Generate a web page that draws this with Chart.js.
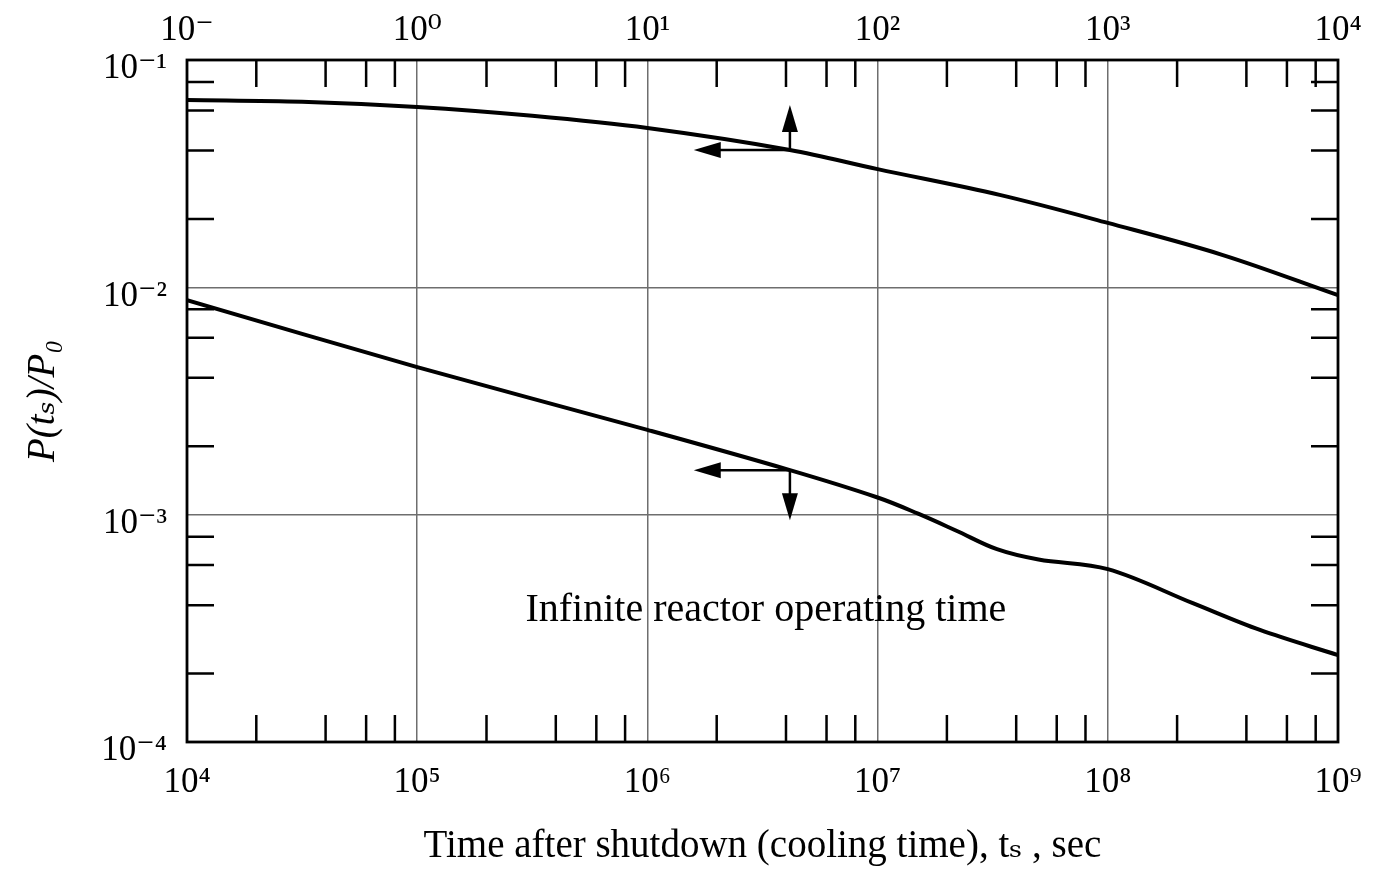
<!DOCTYPE html>
<html>
<head>
<meta charset="utf-8">
<script src="https://cdn.jsdelivr.net/npm/chart.js@4.4.1/dist/chart.umd.min.js"></script>
<style>
  html, body { margin: 0; padding: 0; background: #fff; }
  #wrap { width: 1375px; height: 869px; }
</style>
</head>
<body>
<div id="wrap"><canvas id="c" width="1375" height="869"></canvas></div>
<script>
// ---- tick values and labels ----
const bottomTicks = [1e4, 1e5, 1e6, 1e7, 1e8, 1e9];
const bottomTickLabels = ['10⁴', '10⁵', '10⁶', '10⁷', '10⁸', '10⁹'];
const topTicks = [0.1, 1, 10, 100, 1000, 1e4];
const topTickLabels = ['10⁻', '10⁰', '10¹', '10²', '10³', '10⁴'];
const yTicks = [1e-4, 1e-3, 1e-2, 1e-1];
const yTickLabels = ['10⁻⁴', '10⁻³', '10⁻²', '10⁻¹'];
const minorMultipliers = [2, 4, 6, 8];

// ---- upper curve (read against the top axis, sec) ----
const shortTimes = [0.1, 0.316, 1, 3.16, 10, 41.6, 100, 339, 1000, 3162, 10000];
const shortPower = [0.0667, 0.0655, 0.0621, 0.0568, 0.0502, 0.0402, 0.0331, 0.0255, 0.0192, 0.01387, 0.00924];

// ---- lower curve (read against the bottom axis, sec) ----
const longTimes = [1e4, 1e5, 1e6, 4.16e6, 1e7, 1.5e7, 2.2e7, 3.3e7, 5e7, 1e8, 2.34e8, 4.58e8, 1e9];
const longPower = [0.00879, 0.00446, 0.00236, 0.00157, 0.00119, 0.00101, 0.000850, 0.000705, 0.000635, 0.000576, 0.000408, 0.000311, 0.000241];

// ---- annotation arrows and label ----
const upperArrowX = [41.6, 15.9];      // junction, left tip (top axis)
const upperArrowY = [0.0402, 0.0634];  // junction, upper tip
const lowerArrowX = [4.16e6, 1.59e6];  // junction, left tip (bottom axis)
const lowerArrowY = [0.00157, 0.000946]; // junction, lower tip
const noteText = 'Infinite reactor operating time';
const notePos = [3.27e6, 3.8e-4];

const SERIF = "'Liberation Serif', 'DejaVu Serif', serif";

function fixTicks(values) {
  return function (scale) { scale.ticks = values.map(v => ({ value: v })); };
}

const decoration = {
  id: 'decoration',
  afterDatasetsDraw(chart) {
    const { ctx, chartArea: a, scales } = chart;
    const X = scales.x, X2 = scales.x2, Y = scales.y;
    const TL = 27;
    ctx.save();
    ctx.strokeStyle = '#000';
    ctx.lineWidth = 2.5;
    ctx.lineCap = 'butt';
    ctx.beginPath();
    bottomTicks.slice(0, -1).forEach(d => {
      minorMultipliers.forEach(m => {
        const px = X.getPixelForValue(d * m);
        ctx.moveTo(px, a.bottom); ctx.lineTo(px, a.bottom - TL);
        ctx.moveTo(px, a.top); ctx.lineTo(px, a.top + TL);
      });
    });
    yTicks.slice(0, -1).forEach(d => {
      minorMultipliers.forEach(m => {
        const py = Y.getPixelForValue(d * m);
        ctx.moveTo(a.left, py); ctx.lineTo(a.left + TL, py);
        ctx.moveTo(a.right, py); ctx.lineTo(a.right - TL, py);
      });
    });
    ctx.stroke();
    ctx.lineWidth = 2.8;
    ctx.strokeRect(a.left, a.top, a.right - a.left, a.bottom - a.top);

    function head(tx, ty, dx, dy) {
      const len = 27, hw = 8;
      const bx = tx - dx * len, by = ty - dy * len;
      ctx.beginPath();
      ctx.moveTo(tx, ty);
      ctx.lineTo(bx - dy * hw, by + dx * hw);
      ctx.lineTo(bx + dy * hw, by - dx * hw);
      ctx.closePath();
      ctx.fill();
    }
    ctx.fillStyle = '#000';
    ctx.lineWidth = 2.5;
    let jx = X2.getPixelForValue(upperArrowX[0]);
    let jy = Y.getPixelForValue(upperArrowY[0]);
    let lx = X2.getPixelForValue(upperArrowX[1]);
    let uy = Y.getPixelForValue(upperArrowY[1]);
    ctx.beginPath();
    ctx.moveTo(jx, jy); ctx.lineTo(lx + 20, jy);
    ctx.moveTo(jx, jy); ctx.lineTo(jx, uy + 20);
    ctx.stroke();
    head(lx, jy, -1, 0);
    head(jx, uy, 0, -1);
    jx = X.getPixelForValue(lowerArrowX[0]);
    jy = Y.getPixelForValue(lowerArrowY[0]);
    lx = X.getPixelForValue(lowerArrowX[1]);
    const dy2 = Y.getPixelForValue(lowerArrowY[1]);
    ctx.beginPath();
    ctx.moveTo(jx, jy); ctx.lineTo(lx + 20, jy);
    ctx.moveTo(jx, jy); ctx.lineTo(jx, dy2 - 20);
    ctx.stroke();
    head(lx, jy, -1, 0);
    head(jx, dy2, 0, 1);

    ctx.font = '40px ' + SERIF;
    ctx.textAlign = 'center';
    ctx.textBaseline = 'middle';
    ctx.fillText(noteText, X.getPixelForValue(notePos[0]), Y.getPixelForValue(notePos[1]));
    ctx.restore();
  }
};

const tickFont = { family: SERIF, size: 35 };
const gridStyle = { display: true, color: '#6e6e6e', lineWidth: 1.5, drawTicks: false };

function fitHeight(h) {
  return function (s) { s.height = h; s.paddingLeft = 0; s.paddingRight = 0; };
}

new Chart(document.getElementById('c'), {
  type: 'line',
  data: {
    datasets: [
      {
        label: 'short',
        xAxisID: 'x2',
        yAxisID: 'y',
        data: shortTimes.map((t, i) => ({ x: t, y: shortPower[i] })),
        borderColor: '#000',
        borderWidth: 4,
        pointRadius: 0,
        tension: 0.35,
        fill: false
      },
      {
        label: 'long',
        xAxisID: 'x',
        yAxisID: 'y',
        data: longTimes.map((t, i) => ({ x: t, y: longPower[i] })),
        borderColor: '#000',
        borderWidth: 4,
        pointRadius: 0,
        tension: 0.35,
        fill: false
      }
    ]
  },
  options: {
    responsive: false,
    animation: false,
    layout: { padding: { left: 0, right: 37, top: 0, bottom: 0 } },
    plugins: { legend: { display: false }, tooltip: { enabled: false }, title: { display: false } },
    scales: {
      x: {
        type: 'logarithmic',
        position: 'bottom',
        min: 1e4, max: 1e9,
        afterBuildTicks: fixTicks(bottomTicks),
        afterFit: fitHeight(127),
        grid: gridStyle,
        border: { display: false },
        ticks: {
          color: '#000', font: tickFont, padding: 20, maxRotation: 0, autoSkip: false,
          callback: (v, i) => bottomTickLabels[i]
        },
        title: {
          display: true,
          text: 'Time after shutdown (cooling time), tₛ , sec',
          color: '#000',
          font: { family: SERIF, size: 39 },
          padding: { top: 0, bottom: -1 }
        }
      },
      x2: {
        type: 'logarithmic',
        position: 'top',
        min: 0.1, max: 1e4,
        afterBuildTicks: fixTicks(topTicks),
        afterFit: fitHeight(60),
        grid: { display: false, drawTicks: false },
        border: { display: false },
        ticks: {
          color: '#000', font: tickFont, padding: 8, maxRotation: 0, autoSkip: false,
          callback: (v, i) => topTickLabels[i]
        }
      },
      y: {
        type: 'logarithmic',
        position: 'left',
        min: 1e-4, max: 1e-1,
        afterBuildTicks: fixTicks(yTicks),
        afterFit(s) { s.width = 187; s.paddingTop = 0; s.paddingBottom = 0; },
        grid: gridStyle,
        border: { display: false },
        ticks: {
          color: '#000', font: tickFont, padding: 20, labelOffset: 9, autoSkip: false,
          callback: (v, i) => yTickLabels[i]
        },
        title: {
          display: true,
          text: 'P(tₛ)/P₀',
          color: '#000',
          font: { family: SERIF, size: 39, style: 'italic' },
          padding: { top: 20, bottom: 0 }
        }
      }
    }
  },
  plugins: [decoration]
});
</script>
</body>
</html>
